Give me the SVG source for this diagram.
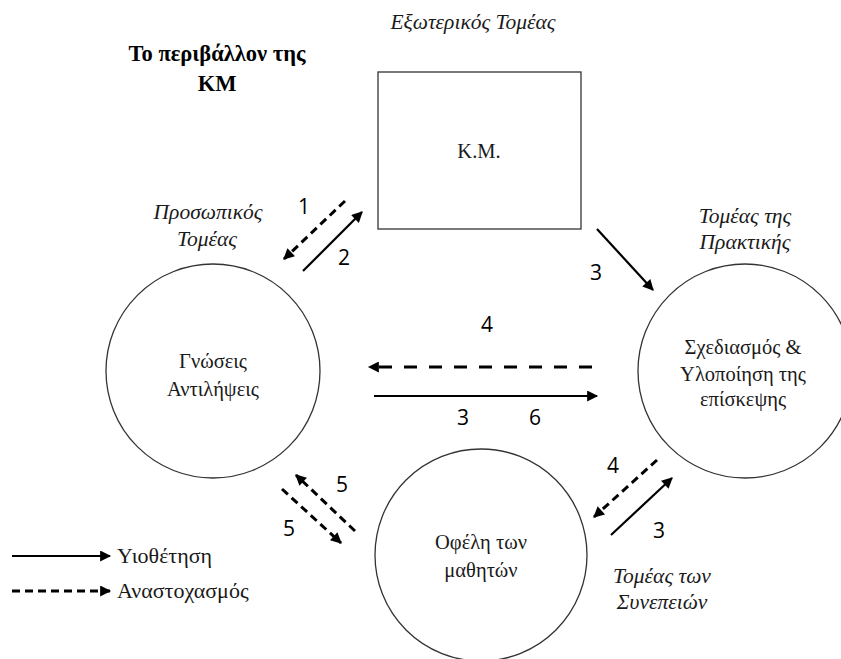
<svg xmlns="http://www.w3.org/2000/svg" width="841" height="659" viewBox="0 0 841 659">
<style>
.node{fill:none;stroke:#333;stroke-width:1.3}
.t{font-family:'Liberation Serif','DejaVu Serif',serif;font-size:20.5px;fill:#1a1a1a;text-anchor:middle}
.it{font-family:'Liberation Serif','DejaVu Serif',serif;font-size:21.5px;font-style:italic;fill:#1a1a1a;text-anchor:middle}
.b{font-family:'Liberation Serif','DejaVu Serif',serif;font-size:22.5px;font-weight:bold;fill:#000;text-anchor:middle}
.n{font-family:'Open Sans','Liberation Sans',sans-serif;font-size:21px;fill:#000;text-anchor:middle}
.lg{font-family:'Liberation Serif','DejaVu Serif',serif;font-size:22px;fill:#1a1a1a}
.s{stroke:#000;stroke-width:2.2;fill:none;marker-end:url(#ah)}
.d{stroke:#000;stroke-width:3;fill:none;stroke-dasharray:8 5;marker-end:url(#ah)}
.dh{stroke:#000;stroke-width:3;fill:none;stroke-dasharray:13 12;marker-end:url(#ah)}
</style>
<defs>
<marker id="ah" viewBox="0 0 10 10" refX="9" refY="5" markerWidth="13" markerHeight="11" markerUnits="userSpaceOnUse" orient="auto">
<path d="M0,0 L10,5 L0,10 Z" fill="#000"/>
</marker>
</defs>
<rect width="841" height="659" fill="#fff"/>

<text class="it" x="473" y="29">Εξωτερικός Τομέας</text>
<text class="b" x="217" y="61">Το περιβάλλον της</text>
<text class="b" x="217" y="91">ΚΜ</text>
<text class="it" x="208" y="219">Προσωπικός</text>
<text class="it" x="207" y="246">Τομέας</text>
<text class="it" x="745" y="223">Τομέας της</text>
<text class="it" x="745" y="249">Πρακτικής</text>
<text class="it" x="662" y="583">Τομέας των</text>
<text class="it" x="662" y="609">Συνεπειών</text>

<g id="km">
<rect class="node" x="378" y="72" width="203" height="157"/>
<text class="t" x="479" y="158">Κ.Μ.</text>
</g>
<g id="gnoseis">
<circle class="node" cx="213" cy="371" r="107"/>
<text class="t" x="213" y="368">Γνώσεις</text>
<text class="t" x="213" y="396">Αντιλήψεις</text>
</g>
<g id="sxediasmos">
<circle class="node" cx="745" cy="371" r="107"/>
<text class="t" x="743" y="354">Σχεδιασμός &amp;</text>
<text class="t" x="743" y="381">Υλοποίηση της</text>
<text class="t" x="743" y="406">επίσκεψης</text>
</g>
<g id="ofeli">
<circle class="node" cx="481" cy="555" r="106"/>
<text class="t" x="481" y="549">Οφέλη των</text>
<text class="t" x="481" y="577">μαθητών</text>
</g>

<g id="connectors">
<line class="d" x1="345" y1="201" x2="284" y2="259"/>
<line class="s" x1="303" y1="271" x2="362" y2="212"/>
<line class="s" x1="597" y1="229" x2="653" y2="290"/>
<line class="dh" x1="592" y1="367" x2="369" y2="367"/>
<line class="s" x1="374" y1="396" x2="597" y2="396"/>
<line class="d" x1="355" y1="531" x2="296" y2="475"/>
<line class="d" x1="282" y1="489" x2="341" y2="543"/>
<line class="d" x1="657" y1="460" x2="594" y2="517"/>
<line class="s" x1="611" y1="535" x2="672" y2="478"/>
<text class="n" x="304" y="214">1</text>
<text class="n" x="344" y="265">2</text>
<text class="n" x="596" y="280">3</text>
<text class="n" x="487" y="332">4</text>
<text class="n" x="463" y="425">3</text>
<text class="n" x="535" y="425">6</text>
<text class="n" x="342" y="492">5</text>
<text class="n" x="289" y="536">5</text>
<text class="n" x="613" y="473">4</text>
<text class="n" x="659" y="538">3</text>
</g>

<g id="legend">
<line class="s" x1="12" y1="556" x2="110" y2="556"/>
<text class="lg" x="117" y="563">Υιοθέτηση</text>
<line class="d" x1="12" y1="591" x2="110" y2="591" stroke-dasharray="9 4"/>
<text class="lg" x="117" y="598">Αναστοχασμός</text>
</g>
</svg>
